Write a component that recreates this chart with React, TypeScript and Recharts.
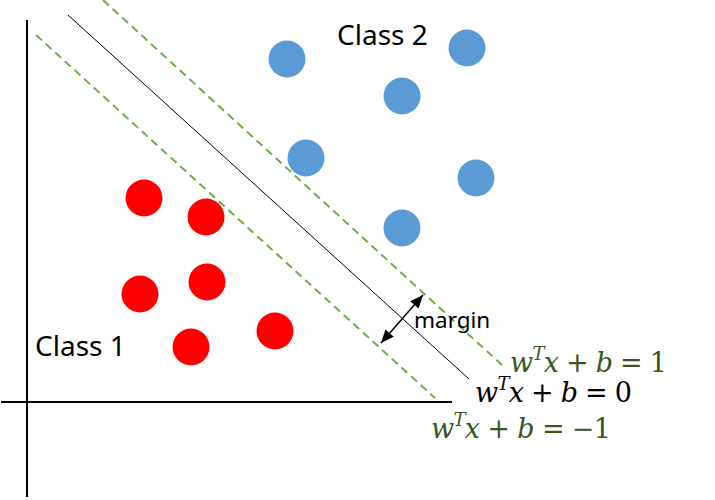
import React from 'react';
import { ScatterChart, Scatter, XAxis, YAxis, ReferenceLine } from 'recharts';

// origin sits where the two axes cross
const classOne = [
  { x: 117, y: 204 },
  { x: 179, y: 185 },
  { x: 113, y: 108 },
  { x: 180, y: 120 },
  { x: 164, y: 55 },
  { x: 248, y: 71 },
];

const classTwo = [
  { x: 260, y: 343 },
  { x: 440, y: 354 },
  { x: 375, y: 306 },
  { x: 279, y: 244 },
  { x: 449, y: 224 },
  { x: 375, y: 174 },
];

const xAxisSeg = [{ x: -26, y: 0 }, { x: 425, y: 0 }];
const yAxisSeg = [{ x: 0, y: 382 }, { x: 0, y: -95 }];
const hyperplane = [{ x: 41, y: 387 }, { x: 442, y: 23 }];
const plusPlane = [{ x: 76, y: 402 }, { x: 475, y: 37 }];
const minusPlane = [{ x: 9, y: 367 }, { x: 408, y: 4 }];
const marginArrow = [{ x: 396, y: 107 }, { x: 354, y: 59 }];

const classLabels = [
  { x: 310, y: 357, text: 'Class 2' },
  { x: 8, y: 46, text: 'Class 1' },
];
const marginLabel = [{ x: 387, y: 74, text: 'margin' }];
const equations = [
  { x: 483, y: 30, rhs: '1', color: '#375623', width: 157 },
  { x: 448, y: 0, rhs: '0', color: '#000000', width: 157 },
  { x: 404, y: -36, rhs: '\u22121', color: '#375623', width: 180 },
];

const Dot = (fill: string) => (props: any) => (
  <circle cx={props.cx} cy={props.cy} r={18.5} fill={fill} />
);

const SansLabel = (size: number) => (props: any) => {
  const p = props.payload ?? props;
  return (
    <text x={props.cx} y={props.cy} fontSize={size} fill="#000" fontFamily="'Noto Sans', sans-serif">
      {p.text}
    </text>
  );
};

const Equation = (props: any) => {
  const p = props.payload ?? props;
  return (
    <text
      x={props.cx}
      y={props.cy}
      fontSize={27}
      fill={p.color}
      fontFamily="'DejaVu Serif', serif"
      textLength={p.width}
      lengthAdjust="spacing"
      style={{ whiteSpace: 'pre' }}
    >
      <tspan fontStyle="italic">w</tspan>
      <tspan fontStyle="italic" fontSize={18} dy={-12}>T</tspan>
      <tspan fontStyle="italic" dy={12}>x</tspan>
      <tspan>{' + '}</tspan>
      <tspan fontStyle="italic">b</tspan>
      <tspan>{' = ' + p.rhs}</tspan>
    </text>
  );
};

const DoubleArrow = (props: any) => {
  const { x1, y1, x2, y2 } = props;
  const ang = Math.atan2(y2 - y1, x2 - x1);
  const head = (x: number, y: number, a: number) => {
    const len = 13;
    const w = 5.5;
    const bx = x - len * Math.cos(a);
    const by = y - len * Math.sin(a);
    const px = -Math.sin(a) * w;
    const py = Math.cos(a) * w;
    return `${x},${y} ${bx + px},${by + py} ${bx - px},${by - py}`;
  };
  return (
    <g>
      <line x1={x1} y1={y1} x2={x2} y2={y2} stroke="#000" strokeWidth={1.5} />
      <polygon points={head(x1, y1, ang + Math.PI)} fill="#000" />
      <polygon points={head(x2, y2, ang)} fill="#000" />
    </g>
  );
};

export default function App() {
  return (
    <div style={{ position: 'absolute', left: 0, top: 0, width: 715, height: 500, background: '#fff' }}>
      <ScatterChart width={715} height={500} margin={{ top: 0, right: 0, bottom: 0, left: 0 }}>
        <XAxis type="number" dataKey="x" domain={[-27, 688]} hide allowDataOverflow />
        <YAxis type="number" dataKey="y" domain={[-98, 402]} hide allowDataOverflow />
        <ReferenceLine segment={yAxisSeg} stroke="#000" strokeWidth={2} />
        <ReferenceLine segment={xAxisSeg} stroke="#000" strokeWidth={2} />
        <ReferenceLine segment={hyperplane} stroke="#000" strokeWidth={1} />
        <ReferenceLine segment={plusPlane} stroke="#70AD47" strokeWidth={2} strokeDasharray="8 5" />
        <ReferenceLine segment={minusPlane} stroke="#70AD47" strokeWidth={2} strokeDasharray="8 5" />
        <ReferenceLine segment={marginArrow} shape={DoubleArrow} />
        <Scatter data={classOne} shape={Dot('#FF0000')} isAnimationActive={false} />
        <Scatter data={classTwo} shape={Dot('#5B9BD5')} isAnimationActive={false} />
        <Scatter data={classLabels} shape={SansLabel(28)} isAnimationActive={false} />
        <Scatter data={marginLabel} shape={SansLabel(22.5)} isAnimationActive={false} />
        <Scatter data={equations} shape={Equation} isAnimationActive={false} />
      </ScatterChart>
    </div>
  );
}
